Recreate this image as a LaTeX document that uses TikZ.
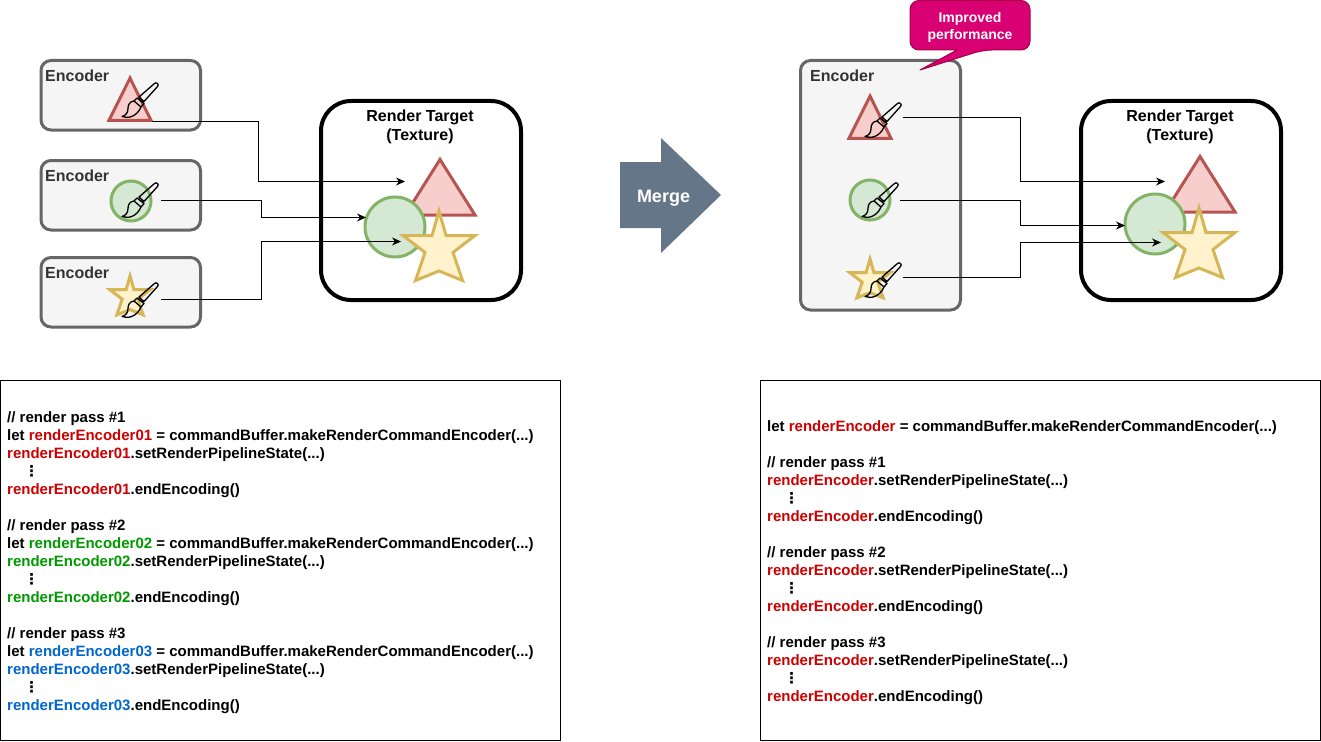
\documentclass[tikz,border=0pt]{standalone}
\usepackage{fontspec}
\setmainfont{Liberation Sans}
\newfontfamily\vdotfont{DejaVu Sans}
\usetikzlibrary{arrows.meta,positioning}
\definecolor{codered}{HTML}{CC0000}
\definecolor{codegreen}{HTML}{009900}
\definecolor{codeblue}{HTML}{0066CC}
\newcommand{\rd}[1]{\textcolor{codered}{#1}}
\newcommand{\gn}[1]{\textcolor{codegreen}{#1}}
\newcommand{\bl}[1]{\textcolor{codeblue}{#1}}
\newcommand{\vd}{\hspace*{17pt}{\vdotfont ⋮}}
\tikzset{
  pics/triangleshape/.style={code={
    \draw[draw={rgb,255:red,184;green,84;blue,80},fill={rgb,255:red,248;green,206;blue,204},line width=3pt]
      (0,-27.5) -- (35,28) -- (-35,28) -- cycle;}},
  pics/starshape/.style={code={
    \draw[draw={rgb,255:red,214;green,182;blue,86},fill={rgb,255:red,255;green,242;blue,204},line width=3pt]
      (0,-34) -- (7,-9.5) -- (36,-9.5) -- (14,7.5) -- (23.5,35.5) -- (0,26) -- (-23.5,35.5) -- (-14,7.5) -- (-36,-9.5) -- (-7,-9.5) -- cycle;}},
  pics/brush/.style={code={
    \draw[line width=1.3pt,line join=round]
      (-1,-3) -- (14.5,-16.5) .. controls (16.5,-18.5) and (19.5,-15.5) .. (17.5,-13.5) -- (4,1.5) -- cycle
      (-3,-2) -- (4,3.5) -- (1,7) -- (-6,1) -- cycle
      (-6,1) .. controls (-10.5,1.5) and (-12,5) .. (-12,8.5) .. controls (-12,12.5) and (-14,15.5) .. (-18,16.5)
        .. controls (-12,19) and (-3,16.5) .. (1,7);}}
}
\begin{document}
\begin{tikzpicture}[x=1pt,y=-1pt,
  enc/.style={draw={rgb,255:red,102;green,102;blue,102},fill={rgb,255:red,245;green,245;blue,245},line width=3pt,rounded corners=10pt},
  enclabel/.style={anchor=west,inner sep=0pt,text={rgb,255:red,51;green,51;blue,51},font=\fontsize{16}{19}\selectfont\bfseries},
  target/.style={draw=black,line width=4pt,rounded corners=30pt},
  targetlabel/.style={align=center,inner sep=0pt,font=\fontsize{16}{19}\selectfont\bfseries},
  codebox/.style={draw=black,line width=1pt},
  code/.style={anchor=west,align=left,inner sep=0pt,font=\fontsize{15}{18}\selectfont\bfseries},
  greencirc/.style={circle,draw={rgb,255:red,130;green,179;blue,102},fill={rgb,255:red,213;green,232;blue,212},line width=3pt,inner sep=0pt},
  wire/.style={draw=black,line width=1pt,-{Stealth[length=9pt,width=8pt]}}]
\useasboundingbox (0,0) rectangle (1321,741);

% left side
\draw[enc] (41,60.5) rectangle (200.5,130);
\draw[enc] (41,160.5) rectangle (200.5,230);
\draw[enc] (41,257.5) rectangle (200.5,327);
\node[enclabel] at (45,76) (enc1) {Encoder};
\node[enclabel] at (45,176) (enc2) {Encoder};
\node[enclabel] at (45,273) (enc3) {Encoder};
\pic[xscale=.6,yscale=.76] at (130,99) {triangleshape};
\node[greencirc,minimum size=40pt] at (131,201) (circ1) {};
\pic[scale=.56] at (130,295) {starshape};
\pic at (140,100) {brush};
\pic at (140,200) {brush};
\pic at (140,300) {brush};

\draw[target] (321,101) rectangle (521,300);
\node[targetlabel] at (420,127) (targetA) {Render Target\\(Texture)};
\pic at (440,187) {triangleshape};
\node[greencirc,minimum size=60pt] at (395,227) (circA) {};
\pic at (439,245) {starshape};

\coordinate (a1) at (152,121.5);
\coordinate (a2) at (161,200.5);
\coordinate (a3) at (161,299.5);
\coordinate (b1) at (405,181.5);
\coordinate (b2) at (366,217.5);
\coordinate (b3) at (401,241.5);
\draw[wire] (a1) -| (258.5,181.5) -- (b1);
\draw[wire] (a2) -| (261.5,217.5) -- (b2);
\draw[wire] (a3) -| (261.5,241.5) -- (b3);

% merge arrow
\fill[fill={rgb,255:red,100;green,118;blue,135}] (620,162) -- (661,162) -- (661,138) -- (721,195) -- (661,253) -- (661,228) -- (620,228) -- cycle;
\node[text=white,inner sep=0pt,font=\fontsize{18}{21}\selectfont\bfseries] at (663.5,198) (merge) {Merge};

% right side
\draw[enc] (800.5,60.5) rectangle (960.5,310);
\node[enclabel] at (810,76) (enc4) {Encoder};
\pic[xscale=.6,yscale=.76] at (870,117) {triangleshape};
\node[greencirc,minimum size=40pt] at (870,200) (circ2) {};
\pic[scale=.56] at (870,278) {starshape};
\pic at (883,120) {brush};
\pic at (880,200) {brush};
\pic at (883,280) {brush};

\draw[draw={rgb,255:red,165;green,0;blue,64},fill={rgb,255:red,216;green,0;blue,115},line width=1pt,line join=round]
  (983,50) -- (920,70) -- (957,50) [rounded corners=9pt] -- (910,50) -- (910,0.5) -- (1030,0.5) -- (1030,50) -- cycle;
\node[align=center,text=white,inner sep=0pt,font=\fontsize{14}{17}\selectfont\bfseries] at (970,27) (perf) {Improved\\performance};

\draw[target] (1081,101) rectangle (1281,300);
\node[targetlabel] at (1180,127) (targetB) {Render Target\\(Texture)};
\pic at (1200,184) {triangleshape};
\node[greencirc,minimum size=60pt] at (1155,224) (circB) {};
\pic at (1199,242) {starshape};

\coordinate (c1) at (903,117.5);
\coordinate (c2) at (900,200.5);
\coordinate (c3) at (903,277.5);
\coordinate (d1) at (1165,181.5);
\coordinate (d2) at (1125,225.5);
\coordinate (d3) at (1161,242.5);
\draw[wire] (c1) -| (1020.5,181.5) -- (d1);
\draw[wire] (c2) -| (1020.5,225.5) -- (d2);
\draw[wire] (c3) -| (1020.5,242.5) -- (d3);

% code boxes
\draw[codebox] (0.5,380.5) rectangle (560.5,740.5);
\draw[codebox] (760.5,380.5) rectangle (1320.5,740.5);
\node[code] at (7,563) (codeA) {// render pass \#1\\
let \rd{renderEncoder01} = commandBuffer.makeRenderCommandEncoder(...)\\
\rd{renderEncoder01}.setRenderPipelineState(...)\\
\vd\\
\rd{renderEncoder01}.endEncoding()\\
\mbox{}\\
// render pass \#2\\
let \gn{renderEncoder02} = commandBuffer.makeRenderCommandEncoder(...)\\
\gn{renderEncoder02}.setRenderPipelineState(...)\\
\vd\\
\gn{renderEncoder02}.endEncoding()\\
\mbox{}\\
// render pass \#3\\
let \bl{renderEncoder03} = commandBuffer.makeRenderCommandEncoder(...)\\
\bl{renderEncoder03}.setRenderPipelineState(...)\\
\vd\\
\bl{renderEncoder03}.endEncoding()};
\node[code] at (767,563) (codeB) {let \rd{renderEncoder} = commandBuffer.makeRenderCommandEncoder(...)\\
\mbox{}\\
// render pass \#1\\
\rd{renderEncoder}.setRenderPipelineState(...)\\
\vd\\
\rd{renderEncoder}.endEncoding()\\
\mbox{}\\
// render pass \#2\\
\rd{renderEncoder}.setRenderPipelineState(...)\\
\vd\\
\rd{renderEncoder}.endEncoding()\\
\mbox{}\\
// render pass \#3\\
\rd{renderEncoder}.setRenderPipelineState(...)\\
\vd\\
\rd{renderEncoder}.endEncoding()};
\end{tikzpicture}
\end{document}
